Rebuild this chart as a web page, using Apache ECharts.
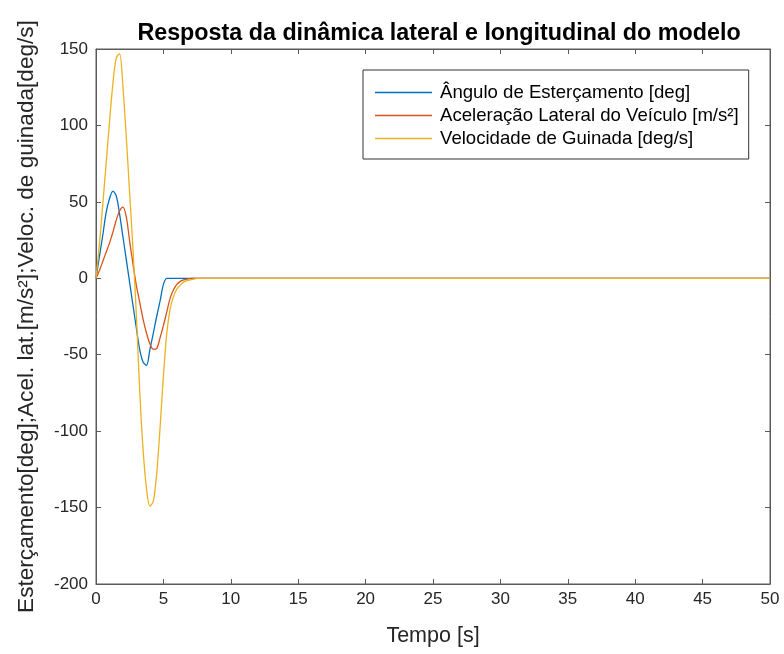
<!DOCTYPE html>
<html>
<head>
<meta charset="utf-8">
<script src="https://cdn.jsdelivr.net/npm/echarts@6/dist/echarts.min.js"></script>
<style>html,body{margin:0;padding:0;background:#fff;}#c{width:784px;height:654px;}</style>
</head>
<body>
<div id="c"></div>
<script>
// Time [s]
var tempo = [0,0.25,0.5,0.75,1.0,1.25,1.5,1.75,2.0,2.25,2.5,2.75,3.0,3.25,3.5,3.75,4.0,4.25,4.5,4.75,5.0,5.25,5.5,5.75,6.0,6.25,6.5,6.75,7.0,7.25,7.5,8,50];
// Ângulo de Esterçamento [deg]
var angulo = [0,14,28,43,52,57,54,42,27,12,-3,-18,-33,-47,-55,-57,-46.5,-36,-25,-15,-4,0,0,0,0,0,0,0,0,0,0,0,0];
// Aceleração Lateral do Veículo [m/s²]
var acel = [0,5,11,17,23,30,38,44,46.5,40,24,9,-5,-16,-27,-36,-43,-46.5,-46,-39,-31,-22,-13,-7.5,-4,-2,-1,-0.5,-0.2,0,0,0,0];
// Velocidade de Guinada [deg/s]
var guinada = [0,22,48,75,102,127,144,147,125,92,55,18,-25,-75,-113,-138,-149,-146,-128,-98,-64,-36,-20,-12,-7,-4.5,-2.5,-1.5,-1,-0.5,0,0,0];

var names = ['Ângulo de Esterçamento [deg]','Aceleração Lateral do Veículo [m/s²]','Velocidade de Guinada [deg/s]'];
var colors = ['#0072BD','#D95319','#EDB120'];

function pairs(v){ return tempo.map(function(t,i){ return [t, v[i]]; }); }

var font = '"Liberation Sans", Arial, sans-serif';
var chart = echarts.init(document.getElementById('c'), null, {renderer:'canvas'});
var axisCol = '#5a5a5a';
chart.setOption({
  backgroundColor:'#fff',
  animation:false,
  title:{
    text:'Resposta da dinâmica lateral e longitudinal do modelo',
    left:434, top:17, textAlign:'center',
    textStyle:{fontFamily:font, fontSize:23.3, fontWeight:'bold', color:'#000'}
  },
  legend:{
    orient:'vertical', left:363, top:70,
    data:names,
    icon:'rect', itemWidth:57, itemHeight:1.3, itemGap:4,
    padding:[13,10,11,12],
    backgroundColor:'#fff', borderColor:'#333', borderWidth:1, borderRadius:0,
    textStyle:{fontFamily:font, fontSize:18.6, color:'#000', padding:[0,0,0,3]}
  },
  grid:{left:96, right:14, top:49, bottom:70, show:true, borderColor:axisCol, borderWidth:1, backgroundColor:'#fff'},
  xAxis:[{
    type:'value', min:0, max:50, interval:5,
    name:'Tempo [s]', nameLocation:'middle', nameGap:41,
    nameTextStyle:{fontFamily:font, fontSize:21.5, color:'#262626'},
    axisLine:{show:true, onZero:false, lineStyle:{color:axisCol}},
    axisTick:{show:true, inside:true, length:5, lineStyle:{color:axisCol}},
    axisLabel:{fontFamily:font, fontSize:17, color:'#262626', margin:7},
    splitLine:{show:false}
  },{
    type:'value', min:0, max:50, interval:5, position:'top',
    axisLine:{show:true, onZero:false, lineStyle:{color:axisCol}},
    axisTick:{show:true, inside:true, length:5, lineStyle:{color:axisCol}},
    axisLabel:{show:false}, splitLine:{show:false}
  }],
  yAxis:[{
    type:'value', min:-200, max:150, interval:50,
    name:'Esterçamento[deg];Acel. lat.[m/s²];Veloc. de guinada[deg/s]',
    nameLocation:'middle', nameGap:58, nameRotate:90,
    nameTextStyle:{fontFamily:font, fontSize:22.6, color:'#262626'},
    axisLine:{show:true, onZero:false, lineStyle:{color:axisCol}},
    axisTick:{show:true, inside:true, length:5, lineStyle:{color:axisCol}},
    axisLabel:{fontFamily:font, fontSize:17, color:'#262626', margin:8},
    splitLine:{show:false}
  },{
    type:'value', min:-200, max:150, interval:50, position:'right',
    axisLine:{show:true, onZero:false, lineStyle:{color:axisCol}},
    axisTick:{show:true, inside:true, length:5, lineStyle:{color:axisCol}},
    axisLabel:{show:false}, splitLine:{show:false}
  }],
  series:[
    {name:names[0], type:'line', data:pairs(angulo), showSymbol:false, symbol:'none', smooth:0.3, lineStyle:{color:colors[0], width:1.3}, itemStyle:{color:colors[0]}, z:3},
    {name:names[1], type:'line', data:pairs(acel), showSymbol:false, symbol:'none', smooth:0.3, lineStyle:{color:colors[1], width:1.3}, itemStyle:{color:colors[1]}, z:4},
    {name:names[2], type:'line', data:pairs(guinada), showSymbol:false, symbol:'none', smooth:0.3, lineStyle:{color:colors[2], width:1.3}, itemStyle:{color:colors[2]}, z:5}
  ]
});
</script>
</body>
</html>
